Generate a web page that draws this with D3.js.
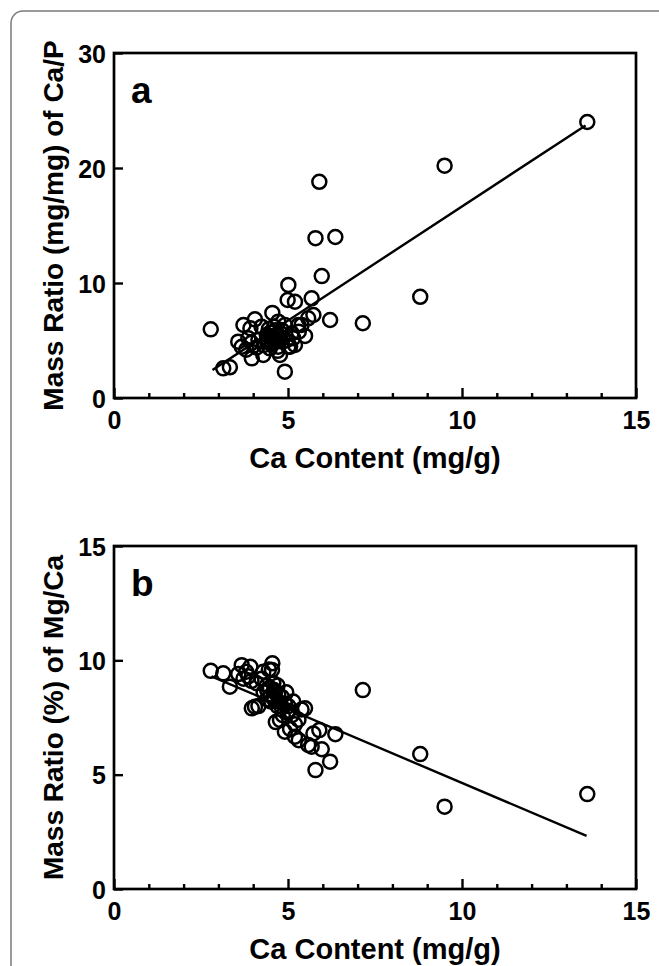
<!DOCTYPE html>
<html>
<head>
<meta charset="utf-8">
<script src="https://cdn.jsdelivr.net/npm/d3@7"></script>
<style>
  body { margin: 0; background: #ffffff; }
  svg { display: block; font-family: "Liberation Sans", Arial, sans-serif; }
</style>
</head>
<body>
<svg id="chart"></svg>
<script>
// Ca content (mg/g) of each sample, shared by both panels
const caContent = [
    13.6, 9.5, 8.8, 7.15, 6.36, 6.21, 5.97, 5.9, 5.79, 2.78,
    5.68, 5.73, 5.58, 5.49, 5.2, 5.01, 4.99, 4.91, 3.14, 3.33,
    3.57, 3.67, 3.72, 3.92, 3.96, 4.05, 4.29, 4.55, 4.54, 4.77,
    5.06, 5.31, 5.39, 4.24, 4.39, 4.63, 4.82, 5.11, 5.2, 4.72,
    4.91, 5.3, 4.15, 4.48, 5.01, 3.86, 4.72, 4.58, 4.5, 4.6,
    4.4, 4.7, 4.85, 4.3, 4.65, 4.1, 3.8, 4.95, 5.15, 4.45,
    3.95, 4.7, 4.5, 4.8, 4.6, 4.4
];
// panel a: mass ratio Ca/P (mg/mg)
const caP = [
    24.0, 20.2, 8.8, 6.5, 14.0, 6.78, 10.6, 18.8, 13.9, 5.97,
    8.67, 7.22, 6.93, 5.4, 8.37, 9.83, 8.52, 2.29, 2.58, 2.67,
    4.9, 4.46, 6.35, 6.06, 3.45, 6.84, 3.74, 7.4, 4.8, 3.74,
    4.46, 5.77, 6.35, 6.2, 5.48, 5.04, 5.91, 5.62, 4.61, 4.46,
    6.35, 6.35, 5.04, 4.32, 4.46, 5.19, 6.64, 5.3, 5.7, 4.9,
    5.1, 5.5, 5.2, 4.6, 5.9, 4.4, 4.2, 5.0, 5.2, 6.0,
    4.8, 4.1, 5.4, 5.6, 6.2, 4.9
];
// panel b: mass ratio Mg/Ca (%)
const mgCa = [
    4.15, 3.6, 5.9, 8.7, 6.77, 5.57, 6.11, 6.95, 5.2, 9.54,
    6.22, 6.8, 6.3, 7.9, 6.66, 8.0, 7.7, 6.88, 9.43, 8.85,
    9.4, 9.79, 9.2, 9.72, 7.9, 7.97, 9.5, 9.87, 9.58, 7.39,
    7.0, 6.51, 7.85, 9.2, 8.9, 8.6, 8.4, 7.6, 7.2, 8.2,
    8.1, 7.4, 8.0, 8.8, 7.8, 9.3, 8.5, 9.0, 8.45, 8.7,
    8.3, 8.0, 7.6, 8.6, 7.3, 9.0, 9.5, 8.6, 8.2, 9.6,
    9.1, 8.9, 8.2, 8.0, 8.3, 8.7
];
// fitted lines, end points
const fitA = [{ x: 2.83, y: 2.43 }, { x: 13.55, y: 23.7 }];
const fitB = [{ x: 2.8, y: 9.3 }, { x: 13.58, y: 2.32 }];

const xTicks = d3.range(0, 16);
const xLabels = [0, 5, 10, 15];

const W = 659, H = 966;
const svg = d3.select("#chart").attr("width", W).attr("height", H);

// gray rounded frame around the figure
svg.append("rect")
    .attr("x", 11).attr("y", 11)
    .attr("width", 700).attr("height", 1100)
    .attr("rx", 12)
    .attr("fill", "none")
    .attr("stroke", "#7a7a7a")
    .attr("stroke-width", 1.5);

function drawPanel({ top, bottom, yMax, yTicks, ys, fit, letter, yTitle }) {
    const left = 114, right = 636;
    const x = d3.scaleLinear().domain([0, 15]).range([left, right]);
    const y = d3.scaleLinear().domain([0, yMax]).range([bottom, top]);

    const g = svg.append("g");

    // x axis: minor ticks each unit, longer ticks at 5s, pointing inward
    const xAxis = g.append("g")
        .attr("transform", `translate(0,${bottom})`)
        .call(d3.axisBottom(x).tickValues(xTicks).tickSize(-5).tickSizeOuter(0)
            .tickFormat(d => xLabels.includes(d) ? d : ""));
    xAxis.selectAll(".tick line")
        .attr("y2", d => d % 5 === 0 ? -10 : -5)
        .attr("stroke-width", 2.4);
    xAxis.selectAll(".tick text")
        .attr("y", 31).attr("dy", 0)
        .attr("font-size", 25).attr("font-weight", "bold")
        .attr("font-family", "Liberation Sans, Arial, sans-serif");
    xAxis.select(".domain").remove();

    const yAxis = g.append("g")
        .attr("transform", `translate(${left},0)`)
        .call(d3.axisLeft(y).tickValues(yTicks).tickSize(-9).tickSizeOuter(0));
    yAxis.selectAll(".tick line").attr("stroke-width", 2.4);
    yAxis.selectAll(".tick text")
        .attr("x", -8).attr("dy", "0.36em")
        .attr("font-size", 25).attr("font-weight", "bold")
        .attr("font-family", "Liberation Sans, Arial, sans-serif");
    yAxis.select(".domain").remove();

    // plot box
    g.append("rect")
        .attr("x", left).attr("y", top)
        .attr("width", right - left).attr("height", bottom - top)
        .attr("fill", "none")
        .attr("stroke", "#000")
        .attr("stroke-width", 2.7);

    // regression line
    g.append("path")
        .datum(fit)
        .attr("fill", "none")
        .attr("stroke", "#000")
        .attr("stroke-width", 2.4)
        .attr("d", d3.line().x(d => x(d.x)).y(d => y(d.y)));

    // open circles
    g.selectAll(".pt")
        .data(caContent.map((c, i) => ({ x: c, y: ys[i] })))
        .enter()
        .append("circle")
        .attr("class", "pt")
        .attr("cx", d => x(d.x))
        .attr("cy", d => y(d.y))
        .attr("r", 7)
        .attr("fill", "none")
        .attr("stroke", "#000")
        .attr("stroke-width", 2.5);

    g.append("text")
        .attr("x", 131).attr("y", top + 50)
        .attr("font-size", 37).attr("font-weight", "bold")
        .text(letter);

    g.append("text")
        .attr("x", (left + right) / 2).attr("y", bottom + 70)
        .attr("text-anchor", "middle")
        .attr("font-size", 29).attr("font-weight", "bold")
        .text("Ca Content (mg/g)");

    g.append("text")
        .attr("transform", `translate(63,${(top + bottom) / 2}) rotate(-90)`)
        .attr("text-anchor", "middle")
        .attr("font-size", 28).attr("font-weight", "bold")
        .text(yTitle);
}

drawPanel({
    top: 53, bottom: 398, yMax: 30, yTicks: [0, 10, 20, 30],
    ys: caP, fit: fitA, letter: "a",
    yTitle: "Mass Ratio (mg/mg) of Ca/P"
});

drawPanel({
    top: 546, bottom: 889, yMax: 15, yTicks: [0, 5, 10, 15],
    ys: mgCa, fit: fitB, letter: "b",
    yTitle: "Mass Ratio (%) of Mg/Ca"
});
</script>
</body>
</html>
